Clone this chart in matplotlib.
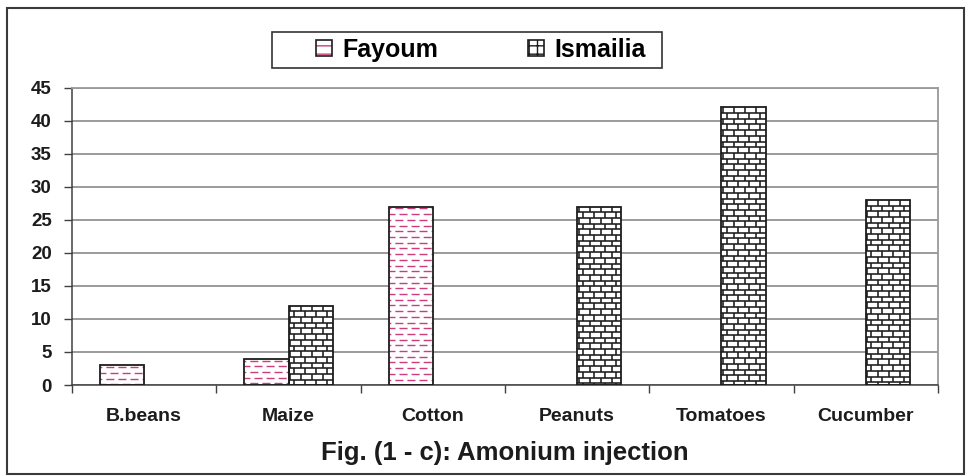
import numpy as np
import matplotlib
matplotlib.use('Agg')
import matplotlib.pyplot as plt
from matplotlib.collections import LineCollection
from matplotlib.patches import Patch, Rectangle

CROPS = ['B.beans', 'Maize', 'Cotton', 'Peanuts', 'Tomatoes', 'Cucumber']
FAYOUM = [3, 4, 27, 0, 0, 0]
ISMAILIA = [0, 12, 0, 27, 42, 28]
Y_TICKS = [0, 5, 10, 15, 20, 25, 30, 35, 40, 45]
SERIES = ['Fayoum', 'Ismailia']
TITLE = 'Fig. (1 - c): Amonium injection'

PINK = '#cc3d7c'
INK = '#1c1c1c'
BAR_W = 0.305
ROW_PX = 5.7      # texture row height in pixels
BRICK_PX = 11.0   # brick length in pixels

plt.rcParams['font.family'] = ['Liberation Sans', 'DejaVu Sans']
plt.rcParams['font.weight'] = 'bold'


def px_per_unit(ax):
    (x0, y0), (x1, y1) = ax.transData.transform([(0, 0), (1, 1)])
    return x1 - x0, y1 - y0


def dashes(ax, bars):
    """Pink dashed rows inside each bar."""
    sx, sy = px_per_unit(ax)
    for b in bars:
        h = b.get_height()
        if not h > 0:
            continue
        x0, x1 = b.get_x(), b.get_x() + b.get_width()
        rows = np.arange(h - 2.0 / sy, 0, -ROW_PX / sy)
        segs = [[(x0, y), (x1, y)] for y in rows]
        styles = [(1.5 if i % 2 else 4.5, (5.8, 2.9)) for i in range(len(rows))]
        lc = LineCollection(segs, colors=PINK, linewidths=1.0,
                            linestyles=styles, zorder=3)
        lc.set_clip_path(b)
        ax.add_collection(lc)


def bricks(ax, bars):
    """Black brick wall inside each bar."""
    sx, sy = px_per_unit(ax)
    dx, dy = BRICK_PX / sx, ROW_PX / sy
    for b in bars:
        h = b.get_height()
        if not h > 0:
            continue
        x0, x1 = b.get_x(), b.get_x() + b.get_width()
        tops = np.arange(h, 0, -dy)
        segs = [[(x0, y), (x1, y)] for y in tops[1:]]
        for i, y in enumerate(tops):
            start = x0 + (dx / 2 if i % 2 else dx * 0.15)
            for x in np.arange(start, x1, dx):
                segs.append([(x, y), (x, max(y - dy, 0))])
        lc = LineCollection(segs, colors=INK, linewidths=1.15, zorder=3)
        lc.set_clip_path(b)
        ax.add_collection(lc)


def main():
    fig = plt.figure(figsize=(9.69, 4.76), dpi=100)
    ax = fig.add_axes([72 / 969, 1 - 385 / 476, 866 / 969, 297.5 / 476])

    x = np.arange(len(CROPS))
    ax.set_xlim(-0.5, len(CROPS) - 0.5)
    ax.set_ylim(0, 45)

    # empty cells are not drawn at all
    fay_vals = np.where(np.array(FAYOUM) > 0, FAYOUM, np.nan)
    ism_vals = np.where(np.array(ISMAILIA) > 0, ISMAILIA, np.nan)

    fay = ax.bar(x - BAR_W / 2, fay_vals, BAR_W, color='white', zorder=2)
    ism = ax.bar(x + BAR_W / 2, ism_vals, BAR_W, color='white', zorder=2)
    dashes(ax, fay)
    bricks(ax, ism)
    for vals, off in ((fay_vals, -1), (ism_vals, 1)):
        ax.bar(x + off * BAR_W / 2, vals, BAR_W, fill=False,
               edgecolor=INK, linewidth=1.3, zorder=4)

    # axes styling
    ax.set_yticks(Y_TICKS)
    ax.yaxis.grid(True, color='#808080', linewidth=1.1)
    ax.set_axisbelow(True)
    ax.set_xticks(x)
    ax.set_xticklabels(CROPS)
    ax.set_xticks(np.arange(-0.5, len(CROPS)), minor=True)
    ax.tick_params(axis='x', which='major', length=0, pad=16.5,
                   labelsize=14, labelcolor=INK)
    ax.tick_params(axis='x', which='minor', length=5.5, width=1.0,
                   color='#404040', direction='out')
    ax.tick_params(axis='y', length=6, width=1.0, color='#404040',
                   pad=8.5, labelsize=13.5, labelcolor=INK)
    for lab in ax.get_xticklabels() + ax.get_yticklabels():
        lab.set_fontweight('bold')
    for side in ('left', 'bottom'):
        ax.spines[side].set_color('#404040')
        ax.spines[side].set_linewidth(1.1)
    for side in ('top', 'right'):
        ax.spines[side].set_color('#9a9a9a')
        ax.spines[side].set_linewidth(1.3)

    # legend
    handles = [
        (Patch(facecolor='white', edgecolor=PINK, hatch='--', linewidth=0),
         Patch(fill=False, edgecolor=INK, linewidth=1.2)),
        (Patch(facecolor='white', edgecolor=INK, hatch='++', linewidth=0),
         Patch(fill=False, edgecolor=INK, linewidth=1.2)),
    ]
    fig.legend(handles, SERIES, loc='center left',
               bbox_to_anchor=(316 / 969, 1 - 50 / 476), ncol=2,
               frameon=False, borderpad=0, borderaxespad=0,
               handlelength=0.65, handleheight=0.62, handletextpad=0.4,
               columnspacing=3.6, prop={'size': 18, 'weight': 'bold'})
    fig.add_artist(Rectangle((272 / 969, 1 - 68 / 476), 390 / 969, 36 / 476,
                             transform=fig.transFigure, fill=False,
                             edgecolor='#333333', linewidth=1.2))

    fig.text(505 / 969, 1 - 453 / 476, TITLE, ha='center', va='center',
             fontsize=18.5, fontweight='bold', color=INK)

    # outer frame
    fig.add_artist(Rectangle((7 / 969, 1 - 474 / 476), 957 / 969, 466 / 476,
                             transform=fig.transFigure, fill=False,
                             edgecolor='#3a3a3a', linewidth=1.5))

    fig.savefig('out.png', dpi=100)


if __name__ == '__main__':
    main()
